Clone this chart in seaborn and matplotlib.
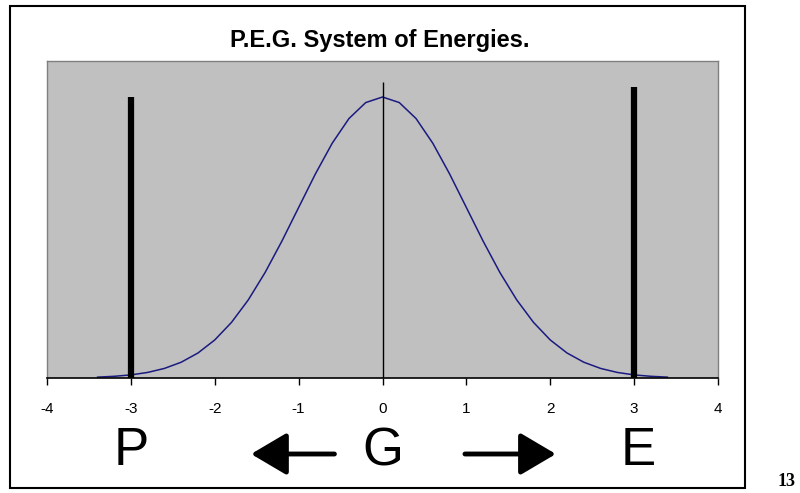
import numpy as np
import pandas as pd
import seaborn as sns
import matplotlib.pyplot as plt
from matplotlib.patches import Rectangle

# bell curve
curve_x = [-3.4, -3.2, -3.0, -2.8, -2.6, -2.4, -2.2, -2.0, -1.8, -1.6, -1.4, -1.2,
           -1.0, -0.8, -0.6, -0.4, -0.2, 0.0, 0.2, 0.4, 0.6, 0.8, 1.0, 1.2,
           1.4, 1.6, 1.8, 2.0, 2.2, 2.4, 2.6, 2.8, 3.0, 3.2, 3.4]
curve_y = [0.0012, 0.0024, 0.0044, 0.0079, 0.0136, 0.0224, 0.0355, 0.0540, 0.0790,
           0.1109, 0.1497, 0.1942, 0.2420, 0.2897, 0.3332, 0.3683, 0.3910, 0.3989,
           0.3910, 0.3683, 0.3332, 0.2897, 0.2420, 0.1942, 0.1497, 0.1109, 0.0790,
           0.0540, 0.0355, 0.0224, 0.0136, 0.0079, 0.0044, 0.0024, 0.0012]

# thick markers for P and E, thin centre line for G
marker_x = [-3, 3]
marker_top = [0.399, 0.413]
centre_x = 0
centre_top = 0.42

x_ticks = [-4, -3, -2, -1, 0, 1, 2, 3, 4]
letters = ['P', 'G', 'E']
letter_x = [-3, 0, 3.05]
arrow_tail = [-0.54, 0.95]
arrow_tip = [-1.6, 2.1]

sns.set_style('white')
plt.rcParams['font.family'] = ['Liberation Sans', 'DejaVu Sans']
plt.rcParams['text.color'] = 'black'
plt.rcParams['xtick.color'] = 'black'

fig = plt.figure(figsize=(8, 4.93), dpi=100)
ax = fig.add_axes([47 / 800, 1 - 378 / 493, 671 / 800, 317 / 493])
ax.set_facecolor('#c0c0c0')

df = pd.DataFrame({'x': curve_x, 'y': curve_y})
sns.lineplot(data=df, x='x', y='y', ax=ax, color='#1a1a80', lw=1.1)

ax.vlines(marker_x, 0, marker_top, color='black', lw=4.5, zorder=3)
ax.vlines(centre_x, 0, centre_top, color='black', lw=1.0, zorder=3)

ax.set_xlim(-4, 4)
ax.set_ylim(0, 0.45)
ax.set_xticks(x_ticks)
ax.set_xticklabels([str(t) for t in x_ticks], fontsize=11, color='black')
ax.set_yticks([])
ax.set_xlabel('')
ax.set_ylabel('')
ax.tick_params(axis='x', direction='out', length=5, width=1, color='black', pad=12, bottom=True)
for side in ['left', 'top', 'right']:
    ax.spines[side].set_color('#808080')
    ax.spines[side].set_linewidth(1)
ax.spines['bottom'].set_color('black')
ax.spines['bottom'].set_linewidth(1.2)

fig.text(380 / 800, 1 - 40 / 493, 'P.E.G. System of Energies.', ha='center', va='center',
         fontsize=17, fontweight='bold', color='black')

for lt, lx in zip(letters, letter_x):
    ax.annotate(lt, xy=(lx, 42), xycoords=('data', 'figure pixels'), ha='center', va='center',
                fontsize=38, color='black', annotation_clip=False)

for tail, tip in zip(arrow_tail, arrow_tip):
    ax.annotate('', xy=(tip, 39), xycoords=('data', 'figure pixels'),
                xytext=(tail, 39), textcoords=('data', 'figure pixels'),
                arrowprops=dict(arrowstyle='-|>,head_length=2.2,head_width=1.3',
                                mutation_scale=10, lw=3.5, color='black'),
                annotation_clip=False)

fig.patches.append(Rectangle((10 / 800, 5 / 493), 735 / 800, 482 / 493, transform=fig.transFigure,
                             fill=False, lw=1.5, edgecolor='black'))
fig.text(787 / 800, 1 - 481 / 493, '13', ha='center', va='center', fontsize=13,
         fontweight='bold', family='Liberation Serif', color='black')

fig.savefig('out.png', dpi=100)
